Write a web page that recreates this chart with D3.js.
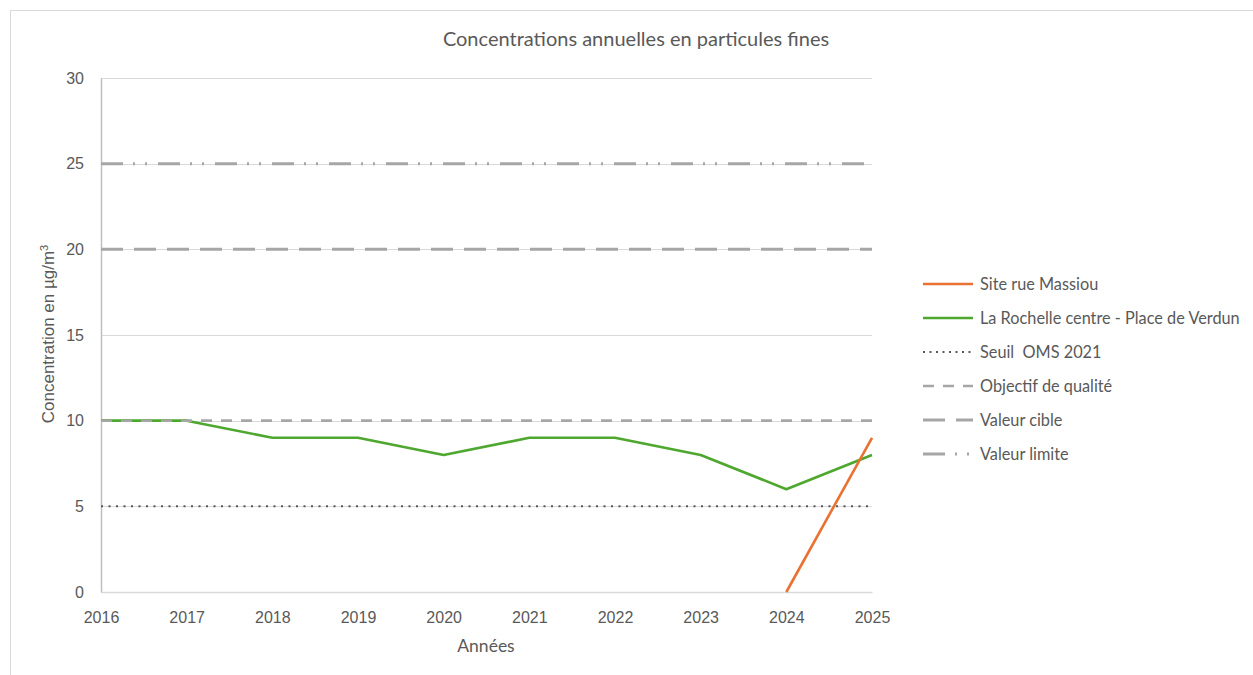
<!DOCTYPE html>
<html>
<head>
<meta charset="utf-8">
<script src="https://cdn.jsdelivr.net/npm/d3@7/dist/d3.min.js"></script>
<style>
  html, body { margin: 0; padding: 0; background: #fff; }
  svg { display: block; }
</style>
</head>
<body>
<svg id="chart" width="1253" height="675"></svg>
<script>
// Annual PM concentrations (µg/m³)
const years = [2016, 2017, 2018, 2019, 2020, 2021, 2022, 2023, 2024, 2025];
const massiouYears = [2024, 2025];
const massiouValues = [0, 9];
const verdunValues = [10, 10, 9, 9, 8, 9, 9, 8, 6, 8];
const yTicks = [0, 5, 10, 15, 20, 25, 30];

// Regulatory thresholds (horizontal reference lines)
const thresholdNames = ["Seuil  OMS 2021", "Objectif de qualité", "Valeur cible", "Valeur limite"];
const thresholdValues = [5, 10, 20, 25];

const svg = d3.select("#chart");
const W = 1253, H = 675;
const margin = { left: 101, right: 872, top: 78, bottom: 592 };

const textFont = "Lato, 'Open Sans', sans-serif";
const tickFont = "'Liberation Sans', Arial, sans-serif";
const textColor = "#595959";

// chart frame
svg.append("rect")
  .attr("x", 10.5).attr("y", 10.5)
  .attr("width", W).attr("height", H)
  .attr("fill", "#fff").attr("stroke", "#d9d9d9").attr("stroke-width", 1);

const x = d3.scaleLinear().domain([2016, 2025]).range([margin.left, margin.right]);
const y = d3.scaleLinear().domain([0, 30]).range([margin.bottom, margin.top]);

// horizontal gridlines
svg.append("g")
  .selectAll("line")
  .data(yTicks)
  .join("line")
  .attr("x1", margin.left).attr("x2", margin.right)
  .attr("y1", d => Math.round(y(d)) + 0.5).attr("y2", d => Math.round(y(d)) + 0.5)
  .attr("stroke", "#d9d9d9").attr("stroke-width", 1);

// y axis
const yAxis = svg.append("g")
  .attr("transform", `translate(${margin.left},0)`)
  .call(d3.axisLeft(y).tickValues(yTicks).tickSize(0).tickPadding(17));
yAxis.select(".domain").attr("stroke", "#bfbfbf").attr("stroke-width", 1.5);
yAxis.selectAll("text")
  .attr("font-family", tickFont).attr("font-size", 16).attr("fill", textColor);

// x axis
const xAxis = svg.append("g")
  .attr("transform", `translate(0,${margin.bottom})`)
  .call(d3.axisBottom(x).tickValues(years).tickFormat(d3.format("d")).tickSize(0).tickPadding(20));
xAxis.select(".domain").attr("stroke", "#d9d9d9").attr("stroke-width", 1.5);
xAxis.selectAll("text")
  .attr("font-family", tickFont).attr("font-size", 16).attr("fill", textColor);

// threshold line styles
const thresholdStyles = [
  { color: "#595959", width: 2, dash: "2,5.5" },
  { color: "#a6a6a6", width: 2.5, dash: "11,9" },
  { color: "#a6a6a6", width: 3, dash: "22,11" },
  { color: "#a6a6a6", width: 3, dash: "22,10,2,10,2,11" }
];

svg.append("g")
  .selectAll("line")
  .data(thresholdValues)
  .join("line")
  .attr("x1", margin.left).attr("x2", margin.right)
  .attr("y1", d => y(d)).attr("y2", d => y(d))
  .attr("stroke", (d, i) => thresholdStyles[i].color)
  .attr("stroke-width", (d, i) => thresholdStyles[i].width)
  .attr("stroke-dasharray", (d, i) => thresholdStyles[i].dash);

// data series
const line = d3.line().x(d => x(d[0])).y(d => y(d[1]));

const verdunColor = "#4ea72e";
const massiouColor = "#e97132";

svg.append("path")
  .datum(years.map((yr, i) => [yr, verdunValues[i]]))
  .attr("d", line)
  .attr("fill", "none").attr("stroke", verdunColor)
  .attr("stroke-width", 2.6).attr("stroke-linejoin", "round");

svg.append("path")
  .datum(massiouYears.map((yr, i) => [yr, massiouValues[i]]))
  .attr("d", line)
  .attr("fill", "none").attr("stroke", massiouColor)
  .attr("stroke-width", 2.6).attr("stroke-linejoin", "round");

// the quality objective is drawn over the series so its dashes stay visible
svg.append("line")
  .attr("x1", margin.left).attr("x2", margin.right)
  .attr("y1", y(thresholdValues[1])).attr("y2", y(thresholdValues[1]))
  .attr("stroke", thresholdStyles[1].color)
  .attr("stroke-width", thresholdStyles[1].width)
  .attr("stroke-dasharray", thresholdStyles[1].dash);

// title
svg.append("text")
  .attr("x", 636).attr("y", 46)
  .attr("text-anchor", "middle")
  .attr("font-family", textFont).attr("font-size", 20)
  .attr("fill", textColor)
  .text("Concentrations annuelles en particules fines");

// x axis title
svg.append("text")
  .attr("x", 486).attr("y", 652)
  .attr("text-anchor", "middle")
  .attr("font-family", textFont).attr("font-size", 17.5)
  .attr("fill", textColor)
  .text("Années");

// y axis title
const yTitle = svg.append("text")
  .attr("transform", "translate(54,334) rotate(-90)")
  .attr("text-anchor", "middle")
  .attr("font-family", tickFont).attr("font-size", 17)
  .attr("fill", textColor);
yTitle.append("tspan").text("Concentration en µg/m");
yTitle.append("tspan").attr("baseline-shift", "super").attr("font-size", 11).text("3");

// legend
const legendItems = [
  { name: "Site rue Massiou", color: massiouColor, width: 2.6 },
  { name: "La Rochelle centre - Place de Verdun", color: verdunColor, width: 2.6 },
  ...thresholdNames.map((n, i) => ({ name: n, color: thresholdStyles[i].color, width: thresholdStyles[i].width }))
];
const legendDash = ["2,4.5", "11,9", "22,11", "22,10,2,10,2,11"];

const legend = svg.append("g");
const rows = legend.selectAll("g")
  .data(legendItems)
  .join("g")
  .attr("transform", (d, i) => `translate(923,${284 + i * 34})`);

rows.append("line")
  .attr("x1", 0).attr("x2", 50).attr("y1", 0).attr("y2", 0)
  .attr("stroke", d => d.color)
  .attr("stroke-width", d => d.width)
  .attr("stroke-dasharray", (d, i) => i < 2 ? null : legendDash[i - 2]);

rows.append("text")
  .attr("x", 57).attr("y", 5.5)
  .attr("font-family", textFont).attr("font-size", 16.3)
  .attr("fill", textColor)
  .style("white-space", "pre")
  .text(d => d.name);
</script>
</body>
</html>
